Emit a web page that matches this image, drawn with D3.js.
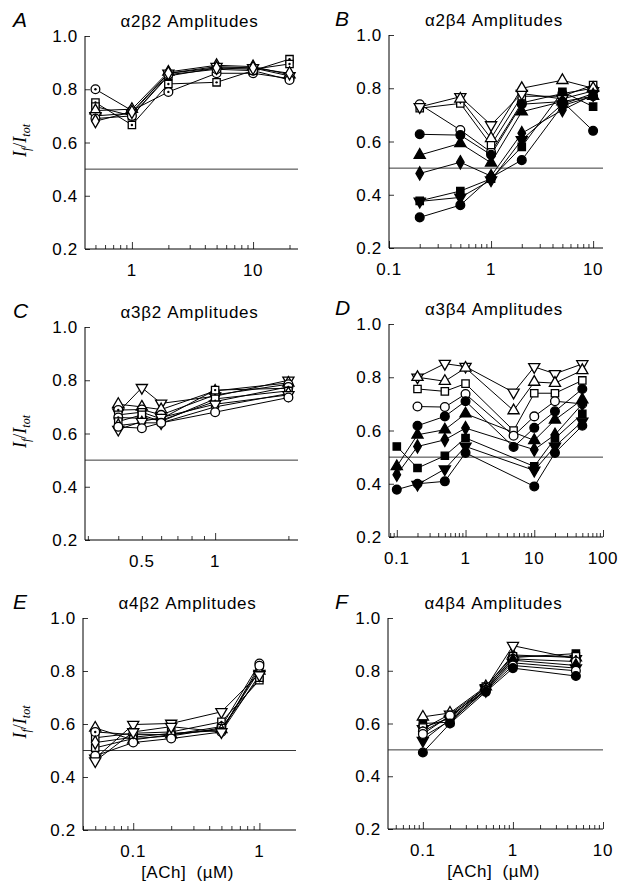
<!DOCTYPE html>
<html lang="en">
<head>
<meta charset="UTF-8">
<title>Amplitudes</title>
<style>
  body { margin: 0; background: #fff; }
  svg text { font-family: "Liberation Sans", Arial, Helvetica, sans-serif; }
</style>
</head>
<body>
<script src="https://d3js.org/d3.v7.min.js"></script>
<script>
const width = 627;
const height = 895;

// ---- data (ACh concentration in uM, If/Itot) ----
const concA = [0.5, 1, 2, 5, 10, 20];
const markA = ["circle-dot", "square-dot", "square-dot", "tri-up", "tri-down", "circle", "diamond"];
const ampA = [
  [0.80, 0.72, 0.79, 0.86, 0.86, 0.84],
  [0.75, 0.666, 0.82, 0.826, 0.87, 0.913],
  [0.735, 0.70, 0.85, 0.88, 0.875, 0.895],
  [0.72, 0.725, 0.865, 0.89, 0.885, 0.855],
  [0.70, 0.71, 0.86, 0.885, 0.88, 0.85],
  [0.69, 0.70, 0.855, 0.875, 0.87, 0.835],
  [0.68, 0.715, 0.86, 0.88, 0.88, 0.86]
];

const concB = [0.2, 0.5, 1, 2, 5, 10];
const markB = ["circle", "square", "tri-down", "tri-up", "circle-fill", "tri-up-fill", "diamond-fill", "square-fill", "tri-down-fill", "circle-fill"];
const ampB = [
  [0.74, 0.643, 0.56, 0.745, 0.78, 0.80],
  [0.725, 0.743, 0.587, 0.77, 0.77, 0.812],
  [0.73, 0.768, 0.662, 0.78, 0.76, 0.79],
  [null, 0.76, 0.612, 0.80, 0.83, 0.80],
  [0.627, 0.624, 0.55, 0.74, 0.75, 0.64],
  [0.549, 0.593, 0.52, 0.712, 0.75, 0.77],
  [0.48, 0.522, 0.47, 0.631, 0.718, 0.775],
  [0.377, 0.414, 0.46, 0.58, 0.787, 0.731],
  [0.375, 0.39, 0.455, 0.606, 0.74, 0.78],
  [0.315, 0.361, 0.465, 0.53, 0.735, 0.77]
];

const concC = [0.4, 0.5, 0.6, 1, 2];
const markC = ["tri-down", "tri-up", "circle-dot", "square-dot", "circle-dot", "square", "diamond", "tri-down", "circle"];
const ampC = [
  [0.68, 0.772, 0.713, 0.74, 0.80],
  [0.71, 0.70, 0.69, 0.76, 0.79],
  [0.688, 0.69, 0.67, 0.745, 0.785],
  [0.67, 0.68, 0.655, 0.763, 0.77],
  [0.66, 0.657, 0.65, 0.72, 0.775],
  [0.645, 0.67, 0.645, 0.73, 0.76],
  [0.63, 0.64, 0.64, 0.70, 0.75],
  [0.615, 0.645, 0.66, 0.71, 0.745],
  [0.625, 0.62, 0.64, 0.68, 0.735]
];

const concD = [0.1, 0.2, 0.5, 1, 5, 10, 20, 50];
const markD = ["tri-down", "tri-up", "square", "circle", "circle-fill", "tri-up-fill", "diamond-fill", "square-fill", "tri-down-fill", "circle-fill"];
const ampD = [
  [null, 0.80, 0.851, 0.84, 0.743, 0.839, 0.813, 0.85],
  [null, 0.80, 0.785, 0.835, 0.675, 0.782, 0.778, 0.826],
  [null, 0.756, 0.747, 0.776, 0.60, 0.74, 0.74, 0.788],
  [null, 0.69, 0.688, 0.737, 0.58, 0.653, 0.71, 0.70],
  [null, 0.618, 0.653, 0.71, 0.538, 0.61, 0.672, 0.756],
  [0.465, 0.584, 0.603, 0.663, null, 0.563, 0.64, 0.716],
  [0.434, 0.54, 0.565, 0.609, null, 0.528, 0.584, 0.70],
  [0.54, 0.459, 0.505, 0.572, null, 0.465, 0.57, 0.663],
  [null, 0.397, 0.455, 0.54, null, 0.45, 0.54, 0.634],
  [0.378, 0.40, 0.409, 0.516, null, 0.39, 0.516, 0.618]
];

const concE = [0.05, 0.1, 0.2, 0.5, 1];
const markE = ["tri-down", "tri-up", "square-dot", "circle-dot", "square", "diamond", "circle", "tri-down"];
const ampE = [
  [0.47, 0.598, 0.602, 0.646, 0.79],
  [0.585, 0.54, 0.56, 0.58, 0.80],
  [0.548, 0.565, 0.57, 0.608, 0.765],
  [0.57, 0.56, 0.56, 0.59, 0.828],
  [0.51, 0.545, 0.555, 0.585, 0.775],
  [0.53, 0.55, 0.565, 0.575, 0.81],
  [0.48, 0.53, 0.545, 0.57, 0.82],
  [0.46, 0.57, 0.59, 0.57, 0.785]
];

const concF = [0.1, 0.2, 0.5, 1, 5];
const markF = ["tri-up", "tri-down", "square-fill", "square-dot", "circle-dot", "diamond-fill", "tri-down-fill", "circle", "circle-fill"];
const ampF = [
  [0.625, 0.64, 0.74, 0.86, 0.85],
  [0.58, 0.635, 0.735, 0.895, 0.845],
  [0.60, 0.605, 0.73, 0.85, 0.865],
  [0.585, 0.62, 0.74, 0.855, 0.855],
  [0.57, 0.625, 0.735, 0.845, 0.835],
  [0.55, 0.61, 0.725, 0.84, 0.82],
  [0.535, 0.615, 0.73, 0.83, 0.81],
  [0.56, 0.63, 0.725, 0.82, 0.80],
  [0.49, 0.60, 0.72, 0.81, 0.78]
];

const yTicks = [0.2, 0.4, 0.6, 0.8, 1.0];

// ---- panel layout ----
const panels = [
  { letter: "A", title: "α2β2 Amplitudes", x0: 85, x1: 298, y0: 36, y1: 249, dom: [0.41, 23.5], labels: [1, 10], conc: concA, amp: ampA, mark: markA, ylab: true },
  { letter: "B", title: "α2β4 Amplitudes", x0: 389, x1: 603, y0: 35, y1: 248, dom: [0.1, 12.5], labels: [0.1, 1, 10], conc: concB, amp: ampB, mark: markB },
  { letter: "C", title: "α3β2 Amplitudes", x0: 85, x1: 298, y0: 327, y1: 540, dom: [0.292, 2.19], labels: [0.5, 1], conc: concC, amp: ampC, mark: markC, ylab: true },
  { letter: "D", title: "α3β4 Amplitudes", x0: 389, x1: 603, y0: 324, y1: 537, dom: [0.077, 100], labels: [0.1, 1, 10, 100], conc: concD, amp: ampD, mark: markD },
  { letter: "E", title: "α4β2 Amplitudes", x0: 83, x1: 296, y0: 618, y1: 830, dom: [0.04, 1.95], labels: [0.1, 1], conc: concE, amp: ampE, mark: markE, ylab: true, xlab: true },
  { letter: "F", title: "α4β4 Amplitudes", x0: 388, x1: 603, y0: 618, y1: 829, dom: [0.041, 10], labels: [0.1, 1, 10], conc: concF, amp: ampF, mark: markF, xlab: true }
];

const svg = d3.select("body").append("svg")
  .attr("width", width)
  .attr("height", height);

function symbolFor(name) {
  const base = name.split("-")[0];
  if (base === "circle") return d3.symbol().type(d3.symbolCircle).size(60)();
  if (base === "square") return d3.symbol().type(d3.symbolSquare).size(54)();
  if (base === "diamond") return d3.symbol().type(d3.symbolDiamond).size(50)();
  return d3.symbol().type(d3.symbolTriangle).size(54)();
}

panels.forEach(p => {
  const x = d3.scaleLog().domain(p.dom).range([p.x0, p.x1]);
  const y = d3.scaleLinear().domain([0.2, 1.0]).range([p.y1, p.y0]);
  const g = svg.append("g");

  // letter and title
  g.append("text")
    .attr("x", p.x0 < 200 ? 13 : 335)
    .attr("y", p.y0 - 9)
    .attr("font-size", 21)
    .attr("font-style", "italic")
    .text(p.letter);
  g.append("text")
    .attr("x", (p.x0 + p.x1) / 2 - 2)
    .attr("y", p.y0 - 9)
    .attr("text-anchor", "middle")
    .attr("font-size", 17)
    .attr("letter-spacing", 0.7)
    .text(p.title);

  // y axis, ticks inward
  const ya = g.append("g")
    .attr("transform", `translate(${p.x0},0)`)
    .call(d3.axisRight(y).tickValues(yTicks).tickSize(5).tickFormat(""));
  ya.select(".domain").attr("d", `M0,${p.y0}V${p.y1}`);
  ya.selectAll("line").attr("stroke-width", 0.8);
  g.selectAll(".ylab")
    .data(yTicks)
    .join("text")
    .attr("x", p.x0 - 7)
    .attr("y", d => y(d) + 6)
    .attr("text-anchor", "end")
    .attr("font-size", 17)
    .attr("letter-spacing", 0.7)
    .text(d3.format(".1f"));

  // x axis, log ticks inward
  const minor = x.ticks().filter(v => v >= p.dom[0] && v <= p.dom[1]);
  const xa = g.append("g")
    .attr("transform", `translate(0,${p.y1})`)
    .call(d3.axisTop(x).tickValues(minor).tickSize(4).tickFormat(""));
  xa.select(".domain").attr("d", `M${p.x0},0H${p.x1}`);
  xa.selectAll("line").attr("stroke-width", 0.8);
  xa.selectAll(".tick line")
    .filter(d => Math.abs(Math.log10(d) - Math.round(Math.log10(d))) < 1e-6)
    .attr("y2", -7);
  g.selectAll(".xlab")
    .data(p.labels)
    .join("text")
    .attr("x", d => x(d))
    .attr("y", p.y1 + 27)
    .attr("text-anchor", "middle")
    .attr("font-size", 17)
    .attr("letter-spacing", 0.7)
    .text(d => String(d));

  // 0.5 reference line
  g.append("line")
    .attr("x1", p.x0).attr("x2", p.x1)
    .attr("y1", y(0.5)).attr("y2", y(0.5))
    .attr("stroke", "#222").attr("stroke-width", 0.9);

  // series
  const series = p.amp.map((vals, i) => ({
    mark: p.mark[i],
    pts: vals.map((v, j) => ({ c: p.conc[j], v: v })).filter(d => d.v != null)
  }));
  const line = d3.line().x(d => x(d.c)).y(d => y(d.v));

  g.selectAll(".ser")
    .data(series)
    .join("path")
    .attr("d", d => line(d.pts))
    .attr("fill", "none")
    .attr("stroke", "#000")
    .attr("stroke-width", 1);

  series.forEach(s => {
    const filled = s.mark.endsWith("fill");
    const dot = s.mark.endsWith("dot");
    const down = s.mark.startsWith("tri-down");
    const pts = g.append("g").selectAll("g")
      .data(s.pts)
      .join("g")
      .attr("transform", d => `translate(${x(d.c)},${y(d.v)})`);
    pts.append("path")
      .attr("d", symbolFor(s.mark))
      .attr("transform", down ? "rotate(180)" : null)
      .attr("fill", filled ? "#000" : "#fff")
      .attr("stroke", "#000")
      .attr("stroke-width", 1.3);
    if (dot) {
      pts.append("circle").attr("r", 1.2).attr("fill", "#000");
    }
  });

  // axis labels
  if (p.ylab) {
    const t = g.append("text")
      .attr("transform", `translate(26,${(p.y0 + p.y1) / 2 - 2}) rotate(-90)`)
      .attr("text-anchor", "middle")
      .attr("font-size", 18)
      .style("font-family", "'Liberation Serif', 'Times New Roman', serif")
      .style("font-style", "italic");
    t.append("tspan").text("I");
    t.append("tspan").attr("dy", 4).attr("font-size", 12).text("f");
    t.append("tspan").attr("dy", -4).style("font-style", "normal").text("/");
    t.append("tspan").text("I");
    t.append("tspan").attr("dy", 4).attr("font-size", 12).text("tot");
  }
  if (p.xlab) {
    g.append("text")
      .attr("x", (p.x0 + p.x1) / 2 - 2)
      .attr("y", p.y1 + 48)
      .attr("text-anchor", "middle")
      .attr("font-size", 17)
      .attr("letter-spacing", 0.5)
      .attr("xml:space", "preserve")
      .text("[ACh]  (µM)");
  }
});
</script>
</body>
</html>
